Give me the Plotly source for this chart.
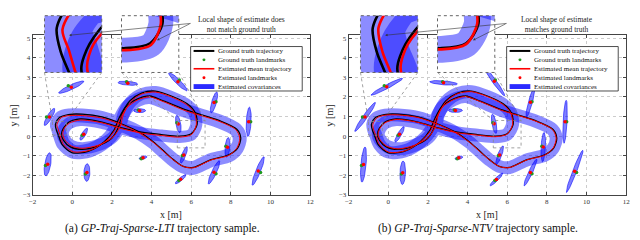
import numpy as np
import plotly.graph_objects as go

# ---------------- data ----------------
x_tick_vals = [-2, 0, 2, 4, 6, 8, 10, 12]
y_tick_vals = [-3, -2, -1, 0, 1, 2, 3, 4, 5]

# ground-truth trajectory, two laps
gt1_x = [0.5, 1.5, 2.5, 3.4, 4.1, 4.6, 5.1, 5.6, 6.1, 7.0, 7.9, 8.35, 8.5, 8.3, 7.4, 5.7, 4.6, 3.9, 3.3, 2.7,
         2.35, 2.1, 1.6, 0.8, 0.0, -0.5, -0.7, -0.8, -0.85, -0.65, -0.2, 0.5]
gt1_y = [1.12, 0.98, 0.62, 0.2, -0.3, -0.75, -1.2, -1.55, -1.6, -1.2, -0.95, -0.6, -0.1, 0.35, 0.8, 1.35, 1.8, 2.05, 1.9, 1.5,
         0.9, 0.3, -0.3, -0.78, -0.85, -0.45, 0.05, 0.3, 0.6, 0.95, 1.1, 1.12]
gt2_x = [0.4, 1.5, 2.5, 3.5, 4.5, 5.4, 6.0, 6.3, 6.2, 5.8, 5.0, 4.2, 3.5, 2.9, 2.5, 2.35, 2.0, 1.3, 0.5, -0.1,
         -0.45, -0.55, -0.45, -0.2, 0.4]
gt2_y = [0.88, 0.72, 0.42, 0.2, 0.08, 0.0, 0.12, 0.6, 1.2, 1.65, 2.05, 2.3, 2.2, 1.8, 1.1, 0.5, -0.1, -0.5, -0.68, -0.55,
         -0.2, 0.1, 0.4, 0.7, 0.88]

# estimated mean trajectory, LTI prior
lti1_x = [0.5, 1.5, 2.5, 3.4, 4.1, 4.6, 5.1, 5.6, 6.1, 7.0, 7.9, 8.3, 8.45, 8.25, 7.4, 5.7, 4.6, 3.9, 3.3, 2.75,
          2.42, 2.15, 1.7, 0.9, 0.05, -0.45, -0.62, -0.7, -0.78, -0.55, -0.15, 0.5]
lti1_y = [1.05, 0.92, 0.58, 0.15, -0.33, -0.78, -1.22, -1.55, -1.62, -1.22, -0.98, -0.62, -0.1, 0.33, 0.76, 1.3, 1.76, 2.0, 1.85, 1.45,
          0.88, 0.3, -0.25, -0.72, -0.8, -0.4, 0.05, 0.32, 0.58, 0.95, 1.05, 1.05]
lti2_x = [0.4, 1.5, 2.5, 3.5, 4.5, 5.4, 6.02, 6.26, 6.15, 5.75, 5.0, 4.2, 3.5, 2.95, 2.58, 2.42, 2.05, 1.35, 0.5, -0.05,
          -0.38, -0.48, -0.4, -0.15, 0.4]
lti2_y = [0.82, 0.68, 0.38, 0.15, 0.03, -0.05, 0.08, 0.6, 1.2, 1.62, 2.0, 2.25, 2.15, 1.75, 1.1, 0.5, -0.05, -0.45, -0.62, -0.5,
          -0.18, 0.12, 0.4, 0.66, 0.82]

# estimated mean trajectory, NTV prior
ntv1_x = [0.5, 1.5, 2.5, 3.4, 4.1, 4.6, 5.1, 5.6, 6.1, 7.0, 7.9, 8.32, 8.47, 8.28, 7.4, 5.7, 4.6, 3.9, 3.3, 2.72,
          2.4, 2.15, 1.65, 0.85, 0.02, -0.45, -0.63, -0.73, -0.78, -0.58, -0.15, 0.5]
ntv1_y = [1.08, 0.95, 0.6, 0.17, -0.32, -0.77, -1.21, -1.55, -1.61, -1.21, -0.97, -0.61, -0.1, 0.34, 0.78, 1.32, 1.78, 2.02, 1.87, 1.47,
          0.88, 0.3, -0.27, -0.75, -0.82, -0.42, 0.05, 0.3, 0.6, 0.93, 1.07, 1.08]
ntv2_x = [0.4, 1.5, 2.5, 3.5, 4.5, 5.4, 6.0, 6.27, 6.17, 5.77, 5.0, 4.2, 3.5, 2.92, 2.53, 2.38, 2.02, 1.32, 0.5, -0.07,
          -0.41, -0.51, -0.42, -0.17, 0.4]
ntv2_y = [0.85, 0.7, 0.4, 0.17, 0.05, -0.03, 0.1, 0.6, 1.2, 1.63, 2.02, 2.27, 2.17, 1.77, 1.1, 0.5, -0.07, -0.47, -0.65, -0.52,
          -0.19, 0.11, 0.4, 0.68, 0.85]

# landmarks
lm_gt_x = [-0.2, 2.74, 5.4, 3.33, 7.25, -1.3, 0.5, 5.28, 9.0, -1.35, 0.66, 3.48, 5.55, 5.38, 7.25, 7.75, 9.5]
lm_gt_y = [2.57, 2.78, 2.86, 1.33, 1.76, 0.98, 0.04, 0.68, 0.73, -1.5, -1.93, -1.15, -1.0, -2.27, -1.92, -0.52, -1.86]
lm_lti_x = [-0.05, 2.8, 5.33, 3.4, 7.15, -1.15, 0.58, 5.35, 8.9, -1.24, 0.74, 3.57, 5.63, 5.47, 7.15, 7.83, 9.38]
lm_lti_y = [2.5, 2.7, 2.78, 1.3, 1.72, 0.98, 0.1, 0.62, 0.73, -1.44, -1.86, -1.1, -0.96, -2.2, -1.85, -0.57, -1.78]
lm_ntv_x = [-0.08, 2.79, 5.35, 3.39, 7.17, -1.17, 0.57, 5.34, 8.92, -1.25, 0.73, 3.56, 5.62, 5.46, 7.17, 7.82, 9.4]
lm_ntv_y = [2.52, 2.72, 2.8, 1.31, 1.73, 0.98, 0.09, 0.63, 0.73, -1.45, -1.87, -1.11, -0.97, -2.21, -1.86, -0.56, -1.8]

# landmark covariance ellipses (semi-axes, orientation in degrees)
lti_a = [0.7, 0.5, 0.65, 0.3, 0.55, 0.5, 0.35, 0.45, 0.75, 0.6, 0.45, 0.2, 0.45, 0.35, 0.65, 0.5, 0.78]
lti_b = [0.12, 0.1, 0.12, 0.1, 0.12, 0.12, 0.1, 0.12, 0.12, 0.15, 0.15, 0.08, 0.1, 0.08, 0.12, 0.12, 0.12]
lti_ang = [25, -5, -45, 0, 75, 60, 60, 100, 87, 80, 88, 15, 70, 40, 65, 85, 68]
ntv_a = [0.9, 0.7, 0.9, 0.35, 0.8, 0.9, 0.45, 0.5, 1.1, 0.9, 0.6, 0.2, 0.5, 0.45, 0.75, 0.75, 1.15]
ntv_b = [0.1, 0.1, 0.1, 0.1, 0.1, 0.11, 0.1, 0.11, 0.1, 0.13, 0.14, 0.08, 0.1, 0.08, 0.1, 0.11, 0.1]
ntv_ang = [28, -5, -55, 0, 75, 55, 60, 100, 87, 85, 88, 15, 70, 45, 65, 87, 69]

# zoomed regions for the insets
zoom1_x = [-1.0, -0.3]
zoom1_y = [0.05, 0.75]
zoom2_x = [5.3, 6.7]
zoom2_y = [-0.6, 0.8]

legend_labels = ["Ground truth trajectory", "Ground truth landmarks", "Estimated mean trajectory",
                 "Estimated landmarks", "Estimated covariances"]

# ---------------- styling ----------------
W, H = 640, 240
SERIF = "Liberation Serif, Times New Roman, serif"
BAND = "rgba(0,0,255,0.45)"
ELL_FILL = "rgba(0,0,255,0.5)"
ELL_LINE = "rgba(0,0,255,0.95)"
GREEN = "#1f9a1f"
RED = "#ff0000"

def PX(px):
    return px / W

def PY(py):
    return 1 - py / H

MAIN_X0, MAIN_X1 = 29, 310
MAIN_Y0, MAIN_Y1 = 35, 198   # top, bottom px
YR = [-3, 5.15]
XR = [-2, 12]

def ellipses(cx, cy, a, b, ang):
    t = np.linspace(0, 2 * np.pi, 41)
    xs, ys = [], []
    for x0, y0, aa, bb, ph in zip(cx, cy, a, b, ang):
        p = np.deg2rad(ph)
        xs += list(x0 + aa * np.cos(t) * np.cos(p) - bb * np.sin(t) * np.sin(p)) + [None]
        ys += list(y0 + aa * np.cos(t) * np.sin(p) + bb * np.sin(t) * np.cos(p)) + [None]
    return xs, ys

fig = go.Figure()

panels = [
    dict(off=0, xa="x", ya="y", ix1=("x3", "y3"), ix2=("x4", "y4"),
         est=[(lti1_x, lti1_y), (lti2_x, lti2_y)], lmx=lm_lti_x, lmy=lm_lti_y,
         ea=lti_a, eb=lti_b, eang=lti_ang, bw=[14, 12],
         note="Local shape of estimate does<br>not match ground truth",
         cap="(a) <i>GP-Traj-Sparse-LTI</i> trajectory sample."),
    dict(off=320, xa="x2", ya="y2", ix1=("x5", "y5"), ix2=("x6", "y6"),
         est=[(ntv1_x, ntv1_y), (ntv2_x, ntv2_y)], lmx=lm_ntv_x, lmy=lm_ntv_y,
         ea=ntv_a, eb=ntv_b, eang=ntv_ang, bw=[13, 13],
         note="Local shape of estimate<br>matches ground truth",
         cap="(b) <i>GP-Traj-Sparse-NTV</i> trajectory sample."),
]

gt_laps = [(gt1_x, gt1_y), (gt2_x, gt2_y)]
layout_axes = {}
shapes = []
annotations = []

def ax_common(**kw):
    d = dict(showgrid=False, zeroline=False, showticklabels=False, ticks="", showline=False)
    d.update(kw)
    return d

for k, P in enumerate(panels):
    off = P["off"]
    xa, ya = P["xa"], P["ya"]
    for lap, w in zip(P["est"], P["bw"]):
        fig.add_trace(go.Scatter(x=lap[0], y=lap[1], mode="lines", xaxis=xa, yaxis=ya,
                                 line=dict(color=BAND, width=w, shape="spline", smoothing=0.8),
                                 hoverinfo="skip", showlegend=False))
    ex, ey = ellipses(P["lmx"], P["lmy"], P["ea"], P["eb"], P["eang"])
    fig.add_trace(go.Scatter(x=ex, y=ey, mode="lines", fill="toself", fillcolor=ELL_FILL,
                             line=dict(color=ELL_LINE, width=0.6), xaxis=xa, yaxis=ya,
                             hoverinfo="skip", showlegend=False))
    for lap in gt_laps:
        fig.add_trace(go.Scatter(x=lap[0], y=lap[1], mode="lines", xaxis=xa, yaxis=ya,
                                 line=dict(color="black", width=1.3, shape="spline", smoothing=0.8),
                                 showlegend=False))
    for lap in P["est"]:
        fig.add_trace(go.Scatter(x=lap[0], y=lap[1], mode="lines", xaxis=xa, yaxis=ya,
                                 line=dict(color=RED, width=1.0, shape="spline", smoothing=0.8),
                                 showlegend=False))
    fig.add_trace(go.Scatter(x=lm_gt_x, y=lm_gt_y, mode="markers", xaxis=xa, yaxis=ya,
                             marker=dict(color=GREEN, size=3.5), showlegend=False))
    fig.add_trace(go.Scatter(x=P["lmx"], y=P["lmy"], mode="markers", xaxis=xa, yaxis=ya,
                             marker=dict(color=RED, size=3.5), showlegend=False))

    xdom = [PX(MAIN_X0 + off), PX(MAIN_X1 + off)]
    ydom = [PY(MAIN_Y1), PY(MAIN_Y0)]
    axstyle = dict(showline=True, linecolor="#444", linewidth=0.8, mirror="ticks",
                   ticks="inside", ticklen=3, tickwidth=0.6, tickcolor="#444",
                   showgrid=True, gridcolor="#cccccc", gridwidth=0.6, griddash="dot",
                   zeroline=False, tickfont=dict(family=SERIF, size=7, color="#333"))
    n = "" if k == 0 else "2"
    layout_axes["xaxis" + n] = dict(domain=xdom, range=XR, tickvals=x_tick_vals, anchor="y" + n, **axstyle)
    layout_axes["yaxis" + n] = dict(domain=ydom, range=YR, tickvals=y_tick_vals, anchor="x" + n, **axstyle)

    insets = [(P["ix1"], zoom1_x, zoom1_y, 41 + off, 99 + off), (P["ix2"], zoom2_x, zoom2_y, 119 + off, 177 + off)]
    for (ixa, iya), zx, zy, ipx0, ipx1 in insets:
        scale = ((ipx1 - ipx0) / (zx[1] - zx[0])) / ((MAIN_X1 - MAIN_X0) / (XR[1] - XR[0]))
        shapes.append(dict(type="rect", xref=ixa, yref=iya, x0=zx[0] - 1, x1=zx[1] + 1, y0=zy[0] - 1, y1=zy[1] + 1,
                           fillcolor="white", line=dict(width=0), layer="below"))
        for lap, w in zip(P["est"], P["bw"]):
            fig.add_trace(go.Scatter(x=lap[0], y=lap[1], mode="lines", xaxis=ixa, yaxis=iya,
                                     line=dict(color=BAND, width=w * scale, shape="spline", smoothing=0.8),
                                     hoverinfo="skip", showlegend=False))
        for lap in gt_laps:
            fig.add_trace(go.Scatter(x=lap[0], y=lap[1], mode="lines", xaxis=ixa, yaxis=iya,
                                     line=dict(color="black", width=2.6, shape="spline", smoothing=0.8),
                                     showlegend=False))
        for lap in P["est"]:
            fig.add_trace(go.Scatter(x=lap[0], y=lap[1], mode="lines", xaxis=ixa, yaxis=iya,
                                     line=dict(color=RED, width=2.6, shape="spline", smoothing=0.8),
                                     showlegend=False))
        xn, yn = ixa.replace("x", "xaxis"), iya.replace("y", "yaxis")
        layout_axes[xn] = ax_common(domain=[PX(ipx0), PX(ipx1)], range=zx, anchor=iya)
        layout_axes[yn] = ax_common(domain=[PY(73), PY(15)], range=zy, anchor=ixa)
        shapes.append(dict(type="rect", xref=ixa + " domain", yref=iya + " domain", x0=0, x1=1, y0=0, y1=1,
                           line=dict(color="#666", width=1, dash="dot"), layer="above"))
        shapes.append(dict(type="rect", xref=xa, yref=ya, x0=zx[0], x1=zx[1], y0=zy[0], y1=zy[1],
                           line=dict(color="#888", width=0.8, dash="dot"), layer="above"))

        def dpx(x):
            return MAIN_X0 + off + (x - XR[0]) * (MAIN_X1 - MAIN_X0) / (XR[1] - XR[0])

        def dpy(y):
            return MAIN_Y0 + (YR[1] - y) * (MAIN_Y1 - MAIN_Y0) / (YR[1] - YR[0])

        for cx_in, cx_d in [(ipx0, zx[0]), (ipx1, zx[1])]:
            shapes.append(dict(type="line", xref="paper", yref="paper",
                               x0=PX(cx_in), y0=PY(73), x1=PX(dpx(cx_d)), y1=PY(dpy(zy[1])),
                               line=dict(color="#888", width=0.8, dash="dot"), layer="above"))

    annotations.append(dict(x=PX(240 + off), y=PY(24), xref="paper", yref="paper", text=P["note"],
                            showarrow=False, font=dict(family=SERIF, size=7.5, color="#222"),
                            xanchor="center", yanchor="middle"))
    tail = (189 + off, 23)
    for head in [(66 + off, 35), (155 + off, 40)]:
        annotations.append(dict(x=PX(head[0]), y=PY(head[1]), xref="paper", yref="paper", text="",
                                showarrow=True, arrowhead=2, arrowsize=0.8, arrowwidth=0.6, arrowcolor="#333",
                                ax=tail[0] - head[0], ay=tail[1] - head[1], axref="pixel", ayref="pixel"))
    annotations.append(dict(x=PX(169.5 + off), y=PY(218), xref="paper", yref="paper", text="x [m]",
                            showarrow=False, font=dict(family=SERIF, size=10, color="#222"),
                            xanchor="center", yanchor="middle"))
    annotations.append(dict(x=PX(10 + off), y=PY(117), xref="paper", yref="paper", text="y [m]", textangle=-90,
                            showarrow=False, font=dict(family=SERIF, size=10, color="#222"),
                            xanchor="center", yanchor="middle"))
    annotations.append(dict(x=PX(160 + off), y=PY(232), xref="paper", yref="paper", text=P["cap"],
                            showarrow=False, font=dict(family=SERIF, size=11.5, color="#111"),
                            xanchor="center", yanchor="middle"))

    # manual legend
    fs = 7.0
    pitch = 1.3 * fs
    row0 = 51.0
    rows = [row0 + i * pitch for i in range(5)]
    lx0, lx1, ly0, ly1 = 189 + off, 302 + off, rows[0] - 4.5, rows[-1] + 4.5
    shapes.append(dict(type="rect", xref="paper", yref="paper", x0=PX(lx0), x1=PX(lx1), y0=PY(ly1), y1=PY(ly0),
                       fillcolor="white", line=dict(color="#222", width=0.8), layer="above"))
    sx0, sx1 = 192 + off, 213 + off
    shapes.append(dict(type="line", xref="paper", yref="paper", x0=PX(sx0), x1=PX(sx1), y0=PY(rows[0]), y1=PY(rows[0]),
                       line=dict(color="black", width=2), layer="above"))
    shapes.append(dict(type="line", xref="paper", yref="paper", x0=PX(sx0), x1=PX(sx1), y0=PY(rows[2]), y1=PY(rows[2]),
                       line=dict(color=RED, width=1.6), layer="above"))
    for r, c in [(rows[1], GREEN), (rows[3], RED)]:
        shapes.append(dict(type="circle", xref="paper", yref="paper", x0=PX(201 + off), x1=PX(204 + off),
                           y0=PY(r + 1.5), y1=PY(r - 1.5), fillcolor=c, line=dict(width=0), layer="above"))
    shapes.append(dict(type="rect", xref="paper", yref="paper", x0=PX(sx0), x1=PX(sx1), y0=PY(rows[4] + 2.5),
                       y1=PY(rows[4] - 2.5), fillcolor="#2a2aff", line=dict(width=0), layer="above"))
    annotations.append(dict(x=PX(215.5 + off), y=PY(rows[0] - pitch / 2), xref="paper", yref="paper",
                            text="<br>".join(legend_labels), align="left",
                            showarrow=False, font=dict(family=SERIF, size=fs, color="#111"),
                            xanchor="left", yanchor="top", borderpad=0))

fig.update_layout(width=W, height=H, margin=dict(l=0, r=0, t=0, b=0),
                  paper_bgcolor="white", plot_bgcolor="white", showlegend=False,
                  shapes=shapes, annotations=annotations, **layout_axes)
fig.write_html("out.html", config={"displayModeBar": False},
               post_script="document.body.style.margin='0';document.body.style.padding='0';")
